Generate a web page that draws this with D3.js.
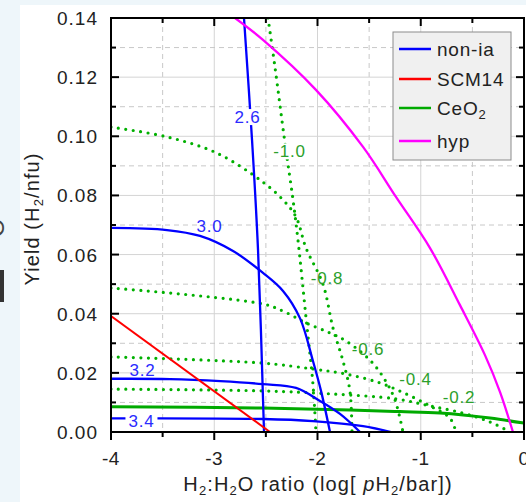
<!DOCTYPE html>
<html>
<head>
<meta charset="utf-8">
<script src="https://cdn.jsdelivr.net/npm/d3@7"></script>
<style>
  body{margin:0;background:#fff;}
  text{font-family:"Liberation Sans",Arial,sans-serif;}
</style>
</head>
<body>
<div id="chart"></div>
<script>
// axis ticks
const xTicks = [-4, -3, -2, -1, 0];
const xMinor = [-3.5, -2.5, -1.5, -0.5];
const yTicks = [0, 0.02, 0.04, 0.06, 0.08, 0.10, 0.12, 0.14];
const yMinor = [0.01, 0.03, 0.05, 0.07, 0.09, 0.11, 0.13];

// non-ia contours (blue), [log pH2, yield]
const nonIa26 = [[-2.712,0.140],[-2.634,0.0987],[-2.576,0.0615],[-2.518,0]];
const nonIa30 = [[-4,0.0690],[-3.458,0.0683],[-3.138,0.0663],[-2.818,0.0612],[-2.528,0.0538],[-2.334,0.0477],[-2.170,0.0385],[-2.044,0.0240],[-1.966,0.0139],[-1.879,0]];
const nonIa32 = [[-4,0.0180],[-3.43,0.0179],[-2.94,0.0172],[-2.528,0.0162],[-2.208,0.0149],[-1.976,0.0105],[-1.782,0.0061],[-1.588,0]];
const nonIa34 = [[-4,0.0046],[-2.528,0.0044],[-2.044,0.0037],[-1.559,0.0020],[-1.288,0]];

// SCM14 (red)
const scm14 = [[-4,0.0392],[-2.46,0]];

// CeO2 (solid green)
const ceo2 = [[-4,0.0085],[-2.528,0.0081],[-1.685,0.0074],[-1.201,0.0069],[-0.813,0.0064],[-0.329,0.0047],[0,0.0030]];

// CeO2 contours (dotted green)
const ceoM10 = [[-2.479,0.140],[-2.412,0.1234],[-2.315,0.0977],[-2.237,0.0785],[-2.189,0.0649],[-2.111,0.0386],[-2.044,0.0162],[-2.015,0]];
const ceoM08 = [[-4,0.1031],[-3.458,0.0998],[-2.973,0.0943],[-2.528,0.0845],[-2.334,0.0785],[-2.208,0.0727],[-2.111,0.0622],[-1.947,0.0500],[-1.850,0.0352],[-1.753,0.0240],[-1.686,0.0139],[-1.666,0]];
const ceoM06 = [[-4,0.0487],[-2.528,0.0433],[-2.334,0.0409],[-2.111,0.0369],[-1.879,0.0335],[-1.724,0.0308],[-1.492,0.0243],[-1.346,0.0176],[-1.249,0.0108],[-1.172,0]];
const ceoM04 = [[-4,0.0254],[-2.528,0.0233],[-2.044,0.0213],[-1.724,0.0196],[-1.395,0.0166],[-1.143,0.0129],[-0.910,0.0088],[-0.717,0.0047],[-0.659,0]];
const ceoM02 = [[-4,0.0145],[-2.528,0.0139],[-1.879,0.0129],[-1.240,0.0112],[-0.910,0.0088],[-0.591,0.0064],[-0.329,0.0034],[-0.136,0]];

// hyp (magenta)
const hyp = [[-2.799,0.140],[-2.528,0.1326],[-2.015,0.1157],[-1.559,0.0964],[-1.240,0.0795],[-0.910,0.0622],[-0.620,0.0429],[-0.378,0.0260],[-0.232,0.0135],[-0.107,0]];

// contour labels [text, x, y, white box]
const blueLabels = [["2.6",-2.678,0.1065,true],["3.0",-3.046,0.0695,false],["3.2",-3.695,0.0211,false],["3.4",-3.705,0.0036,true]];
const greenLabels = [["-1.0",-2.271,0.0949,true],["-0.8",-1.908,0.0522,false],["-0.6",-1.511,0.0279,false],["-0.4",-1.051,0.0178,false],["-0.2",-0.630,0.0117,false]];

const legendNames = ["non-ia","SCM14","CeO2","hyp"];
const legendColors = ["#0000ff","#ff0000","#00aa00","#ff00ff"];

const W = 526, H = 502;
const L = 111, R = 524, T = 18, B = 432;

const svg = d3.select('#chart').append('svg')
              .attr('width', W)
              .attr('height', H);

// page background strip from the surrounding document
svg.append('rect').attr('width', W).attr('height', H).attr('fill', '#eef6fa');
svg.append('rect').attr('x', 20).attr('y', 5).attr('width', W - 20).attr('height', H - 5).attr('fill', '#ffffff');
svg.append('rect').attr('x', 0).attr('y', 270).attr('width', 4).attr('height', 32).attr('fill', '#333');
svg.append('text').attr('transform', 'translate(4,228) rotate(-90)')
   .attr('text-anchor', 'middle').attr('font-size', 24).attr('fill', '#444').text('O');

const x = d3.scaleLinear().domain([-4, 0]).range([L, R]);
const y = d3.scaleLinear().domain([0, 0.14]).range([B, T]);

svg.append('defs').append('clipPath').attr('id', 'clip')
   .append('rect').attr('x', L).attr('y', T).attr('width', R - L).attr('height', B - T);

// grid
const grid = svg.append('g');
grid.selectAll('.gx').data(xTicks.slice(1, -1)).enter().append('line')
    .attr('x1', d => x(d)).attr('x2', d => x(d)).attr('y1', T).attr('y2', B)
    .attr('stroke', '#d4d4d4').attr('stroke-width', 1);
grid.selectAll('.gxm').data(xMinor).enter().append('line')
    .attr('x1', d => x(d)).attr('x2', d => x(d)).attr('y1', T).attr('y2', B)
    .attr('stroke', '#c8c8c8').attr('stroke-width', 1).attr('stroke-dasharray', '5,4');
grid.selectAll('.gy').data(yTicks.slice(1, -1)).enter().append('line')
    .attr('x1', L).attr('x2', R).attr('y1', d => y(d)).attr('y2', d => y(d))
    .attr('stroke', '#d4d4d4').attr('stroke-width', 1);
grid.selectAll('.gym').data(yMinor).enter().append('line')
    .attr('x1', L).attr('x2', R).attr('y1', d => y(d)).attr('y2', d => y(d))
    .attr('stroke', '#c8c8c8').attr('stroke-width', 1).attr('stroke-dasharray', '5,4');

const line = d3.line().x(d => x(d[0])).y(d => y(d[1])).curve(d3.curveCatmullRom.alpha(0.5));
const plot = svg.append('g').attr('clip-path', 'url(#clip)');

// dotted CeO2 contours
[ceoM10, ceoM08, ceoM06, ceoM04, ceoM02].forEach(c => {
    plot.append('path').attr('d', line(c)).attr('fill', 'none')
        .attr('stroke', '#00b000').attr('stroke-width', 3.2)
        .attr('stroke-linecap', 'round').attr('stroke-dasharray', '0,7.5');
});

plot.append('path').attr('d', line(ceo2)).attr('fill', 'none')
    .attr('stroke', '#00aa00').attr('stroke-width', 3);

[nonIa26, nonIa30, nonIa32, nonIa34].forEach(c => {
    plot.append('path').attr('d', line(c)).attr('fill', 'none')
        .attr('stroke', '#0000ff').attr('stroke-width', 2.3);
});

plot.append('path').attr('d', line(scm14)).attr('fill', 'none')
    .attr('stroke', '#ff0000').attr('stroke-width', 2);

plot.append('path').attr('d', line(hyp)).attr('fill', 'none')
    .attr('stroke', '#ff00ff').attr('stroke-width', 2.3);

// contour labels
function contourLabel(d, colour){
    if(d[3]){
        plot.append('rect').attr('x', x(d[1]) - 16).attr('y', y(d[2]) - 8)
            .attr('width', 32).attr('height', 16).attr('fill', '#fff');
    }
    plot.append('text').attr('x', x(d[1])).attr('y', y(d[2]) + 6)
        .attr('text-anchor', 'middle').attr('font-size', 17)
        .attr('letter-spacing', 0.8).attr('fill', colour).text(d[0]);
}
blueLabels.forEach(d => contourLabel(d, '#2b2bff'));
greenLabels.forEach(d => contourLabel(d, '#2ca02c'));

// frame and ticks
svg.append('rect').attr('x', L).attr('y', T).attr('width', R - L).attr('height', B - T)
   .attr('fill', 'none').attr('stroke', '#000').attr('stroke-width', 2);

const ticks = svg.append('g').attr('stroke', '#000').attr('stroke-width', 2);
xTicks.forEach(d => {
    ticks.append('line').attr('x1', x(d)).attr('x2', x(d)).attr('y1', B).attr('y2', B + 8);
    ticks.append('line').attr('x1', x(d)).attr('x2', x(d)).attr('y1', T).attr('y2', T + 8);
});
xMinor.forEach(d => {
    ticks.append('line').attr('x1', x(d)).attr('x2', x(d)).attr('y1', B).attr('y2', B + 5);
    ticks.append('line').attr('x1', x(d)).attr('x2', x(d)).attr('y1', T).attr('y2', T + 5);
});
yTicks.forEach(d => {
    ticks.append('line').attr('x1', L).attr('x2', L + 8).attr('y1', y(d)).attr('y2', y(d));
    ticks.append('line').attr('x1', R).attr('x2', R - 8).attr('y1', y(d)).attr('y2', y(d));
});
yMinor.forEach(d => {
    ticks.append('line').attr('x1', L).attr('x2', L + 5).attr('y1', y(d)).attr('y2', y(d));
    ticks.append('line').attr('x1', R).attr('x2', R - 5).attr('y1', y(d)).attr('y2', y(d));
});

// tick labels
svg.selectAll('.xl').data(xTicks).enter().append('text')
   .attr('x', d => x(d)).attr('y', 465).attr('text-anchor', 'middle')
   .attr('font-size', 19).attr('letter-spacing', 0.6).attr('fill', '#222').text(d => d);
svg.selectAll('.yl').data(yTicks).enter().append('text')
   .attr('x', 98).attr('y', d => y(d) + 7).attr('text-anchor', 'end')
   .attr('font-size', 19).attr('letter-spacing', 1).attr('fill', '#222').text(d => d.toFixed(2));

// axis titles
const xt = svg.append('text').attr('x', 318).attr('y', 491).attr('text-anchor', 'middle')
   .attr('font-size', 20).attr('letter-spacing', 1.1).attr('fill', '#222');
xt.append('tspan').text('H');
xt.append('tspan').attr('font-size', 13).attr('dy', 4).text('2');
xt.append('tspan').attr('dy', -4).text(':H');
xt.append('tspan').attr('font-size', 13).attr('dy', 4).text('2');
xt.append('tspan').attr('dy', -4).text('O ratio (log[ ');
xt.append('tspan').attr('font-style', 'italic').text('p');
xt.append('tspan').text('H');
xt.append('tspan').attr('font-size', 13).attr('dy', 4).text('2');
xt.append('tspan').attr('dy', -4).text('/bar])');

const yt = svg.append('text').attr('transform', 'translate(39,219) rotate(-90)')
   .attr('text-anchor', 'middle').attr('font-size', 20).attr('letter-spacing', 1.1).attr('fill', '#222');
yt.append('tspan').text('Yield (H');
yt.append('tspan').attr('font-size', 13).attr('dy', 4).text('2');
yt.append('tspan').attr('dy', -4).text('/nfu)');

// legend
const lg = svg.append('g');
lg.append('rect').attr('x', 393).attr('y', 32).attr('width', 118).attr('height', 128)
  .attr('fill', '#f0f0f0').attr('stroke', '#8c8c8c').attr('stroke-width', 1);
const rowY = [49, 79, 108, 141];
legendNames.forEach((n, i) => {
    lg.append('line').attr('x1', 399).attr('x2', 431).attr('y1', rowY[i]).attr('y2', rowY[i])
      .attr('stroke', legendColors[i]).attr('stroke-width', 2.5);
    const t = lg.append('text').attr('x', 437).attr('y', rowY[i] + 7)
      .attr('font-size', 19).attr('letter-spacing', 0.8).attr('fill', '#222');
    if(n == "CeO2"){
        t.append('tspan').text('CeO');
        t.append('tspan').attr('font-size', 13).attr('dy', 4).text('2');
    }
    else{
        t.text(n);
    }
});
</script>
</body>
</html>
